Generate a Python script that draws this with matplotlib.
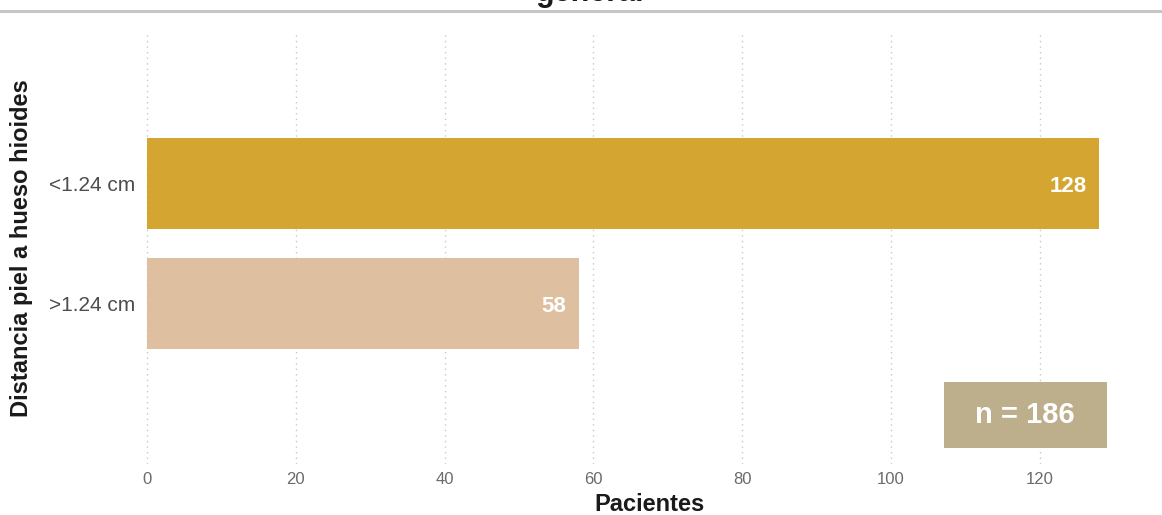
import matplotlib
matplotlib.use("Agg")
import matplotlib.pyplot as plt
from matplotlib.patches import Rectangle
from matplotlib.lines import Line2D

plt.rcParams['font.family'] = ['Liberation Sans', 'DejaVu Sans']

categories = [">1.24 cm", "<1.24 cm"]
values = [58, 128]
colors = ["#DEC0A0", "#D4A530"]
x_ticks = [0, 20, 40, 60, 80, 100, 120]
total_label = "n = 186"
title = "general"
xlabel = "Pacientes"
ylabel = "Distancia piel a hueso hioides"

fig = plt.figure(figsize=(11.62, 5.15), dpi=100)
ax = fig.add_axes([139.56/1162, 1 - 464/515, (1114.2-139.56)/1162, (464-32)/515])

ypos = [1, 2]
ax.barh(ypos, values, height=0.755, color=colors, zorder=2)
for y, v in zip(ypos, values):
    ax.annotate(str(v), xy=(v, y), xytext=(-9, -2), textcoords="offset points",
                ha="right", va="center", color="white", fontsize=16, fontweight="bold", zorder=3)

ax.set_xlim(-1, 130)
ax.set_ylim(-0.328, 3.257)
ax.set_yticks(ypos)
ax.set_yticklabels(categories)
ax.set_xticks(x_ticks)
ax.tick_params(axis="y", length=0, pad=3, labelsize=15, labelcolor="#4d4d4d")
ax.tick_params(axis="x", length=0, pad=6, labelsize=12, labelcolor="#6b6b6b")
for s in ax.spines.values():
    s.set_visible(False)
ax.grid(axis="x", linestyle=(0, (1, 3)), color="#c8c8c8", linewidth=1, zorder=0)
ax.set_axisbelow(True)

ax.set_xlabel(xlabel, fontsize=17, fontweight="bold", color="#1a1a1a")
ax.xaxis.set_label_coords((649 - 139.56) / 974.6, -(516 - 464) / 432)
ax.xaxis.label.set_verticalalignment("bottom")
ax.set_ylabel(ylabel, fontsize=17, fontweight="bold", color="#1a1a1a")
ax.yaxis.set_label_coords((33 - 139.56) / 974.6, 0.5)

# n box
bx0, bx1 = 107.1, 129.0
by0, by1 = -0.195, 0.353
ax.add_patch(Rectangle((bx0, by0), bx1 - bx0, by1 - by0, facecolor="#BDAE8C", edgecolor="none", zorder=3))
ax.text((bx0 + bx1) / 2, (by0 + by1) / 2, total_label, ha="center", va="center",
        color="white", fontsize=21, fontweight="bold", zorder=4)

# clipped title and separator line
fig.text(0.508, 1 - 1.0/515, title, ha="center", va="baseline", fontsize=22, fontweight="bold", color="#1a1a1a")
fig.add_artist(Line2D([0, 1], [1 - 10.8/515, 1 - 10.8/515], color="#c6c6c6", linewidth=2.2, transform=fig.transFigure))

fig.savefig("out.png", dpi=100)
